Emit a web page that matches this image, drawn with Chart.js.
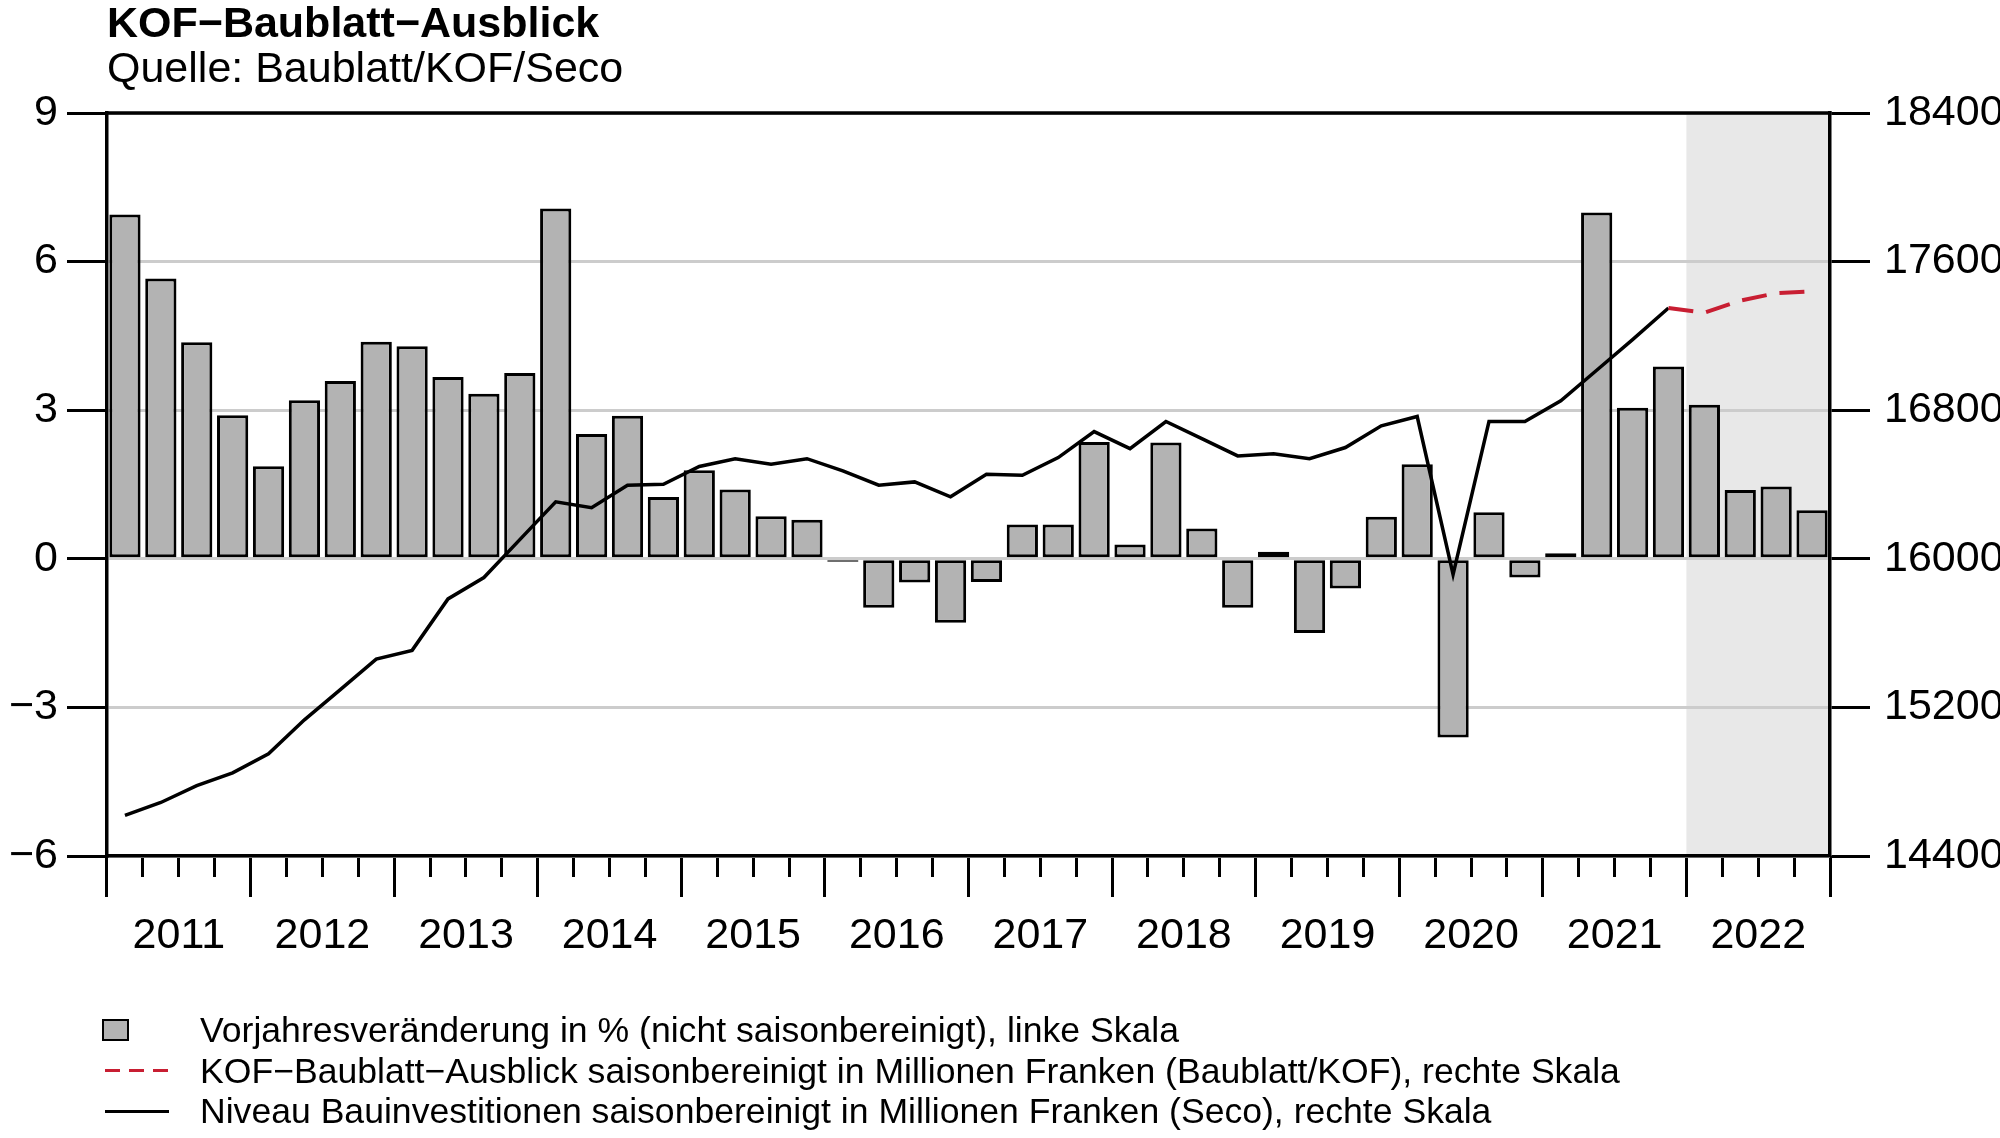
<!DOCTYPE html>
<html>
<head>
<meta charset="utf-8">
<title>KOF-Baublatt-Ausblick</title>
<script src="https://cdn.jsdelivr.net/npm/chart.js@4.4.1/dist/chart.umd.min.js"></script>
<style>
  html, body { margin: 0; padding: 0; background: #fff; }
  #wrap { position: relative; width: 2000px; height: 1138px; font-family: "Liberation Sans", Arial, sans-serif; color: #000; }
  #box { position: absolute; left: 0; top: 0; width: 2000px; height: 1138px; }
  .title { position: absolute; left: 107px; top: 1px; font-size: 43px; line-height: 43px; font-weight: bold; white-space: nowrap; }
  .subtitle { position: absolute; left: 107px; top: 46px; font-size: 43px; line-height: 43px; white-space: nowrap; }
  .leg { position: absolute; left: 200px; font-size: 35.6px; line-height: 36px; white-space: nowrap; }
  .sym { position: absolute; box-sizing: border-box; }
</style>
</head>
<body>
<div id="wrap">
  <div id="box"><canvas id="baublattChart"></canvas></div>
  <div class="title">KOF−Baublatt−Ausblick</div>
  <div class="subtitle">Quelle: Baublatt/KOF/Seco</div>

  <div class="sym" style="left:102px; top:1019px; width:27px; height:22px; background:#b3b3b3; border:2.5px solid #000;"></div>
  <div class="leg" style="top:1012px;">Vorjahresveränderung in % (nicht saisonbereinigt), linke Skala</div>
  <div class="sym" style="left:105px; top:1069px; width:64px; height:3px; background:repeating-linear-gradient(to right, #c81e32 0 15px, transparent 15px 24px);"></div>
  <div class="leg" style="top:1053px;">KOF−Baublatt−Ausblick saisonbereinigt in Millionen Franken (Baublatt/KOF), rechte Skala</div>
  <div class="sym" style="left:105px; top:1110px; width:64px; height:3px; background:#000;"></div>
  <div class="leg" style="top:1093px;">Niveau Bauinvestitionen saisonbereinigt in Millionen Franken (Seco), rechte Skala</div>
</div>

<script>
// Quartale 2011 bis 2022
const years = [2011, 2012, 2013, 2014, 2015, 2016, 2017, 2018, 2019, 2020, 2021, 2022];
const quarters = ["Q1", "Q2", "Q3", "Q4"];
const categories = years.flatMap(y => quarters.map(q => y + " " + q));
const forecastStart = "2022 Q1";

// Vorjahresveränderung in % (linke Skala)
const changePct = [
  6.95, 5.66, 4.37, 2.90, 1.87, 3.20, 3.59, 4.38, 4.29, 3.67, 3.33, 3.75,
  7.07, 2.52, 2.89, 1.25, 1.79, 1.40, 0.86, 0.79, -0.06, -0.99, -0.48, -1.29,
  -0.47, 0.69, 0.69, 2.36, 0.29, 2.35, 0.61, -0.99, 0.14, -1.50, -0.60, 0.85,
  1.91, -3.61, 0.94, -0.38, 0.11, 6.99, 3.05, 3.88, 3.11, 1.39, 1.46, 0.98
];

// Niveau Bauinvestitionen (Seco), Mio. CHF, bis 2021 Q4
const secoLevel = [
  14619, 14688, 14779, 14848, 14950, 15133, 15296, 15460, 15507, 15784, 15899, 16103,
  16307, 16275, 16396, 16401, 16497, 16539, 16509, 16539, 16473, 16396, 16414, 16334,
  16455, 16450, 16545, 16685, 16593, 16739, 16647, 16554, 16566, 16539, 16599, 16716,
  16766, 15916, 16739, 16739, 16851, 17015, 17180, 17350,
  null, null, null, null
];

// KOF-Baublatt-Ausblick, Mio. CHF, ab 2021 Q4
const kofForecast = [
  null, null, null, null, null, null, null, null, null, null, null, null,
  null, null, null, null, null, null, null, null, null, null, null, null,
  null, null, null, null, null, null, null, null, null, null, null, null,
  null, null, null, null, null, null, null, 17350,
  17325, 17390, 17430, 17440
];

// Achsen
const leftTicks = { min: -6, max: 9, step: 3 };
const rightTicks = { min: 14400, max: 18400, step: 800 };

Chart.defaults.font.family = '"Liberation Sans", Arial, sans-serif';
Chart.defaults.font.size = 43;
Chart.defaults.color = "#000";

// grauer Prognosebereich
const shadePlugin = {
  id: "forecastShade",
  beforeDraw(chart) {
    const { ctx, chartArea } = chart;
    const x = chart.scales.x;
    const i = categories.indexOf(forecastStart);
    const left = (x.getPixelForValue(i - 1) + x.getPixelForValue(i)) / 2;
    ctx.save();
    ctx.fillStyle = "#e8e8e8";
    ctx.fillRect(left, chartArea.top, chartArea.right - left, chartArea.bottom - chartArea.top);
    ctx.restore();
  }
};

// obere Rahmenlinie
const frameTop = {
  id: "frameTop",
  afterDraw(chart) {
    const { ctx, chartArea } = chart;
    ctx.save();
    ctx.strokeStyle = "#000";
    ctx.lineWidth = 3.5;
    ctx.beginPath();
    ctx.moveTo(chartArea.left - 1.5, chartArea.top);
    ctx.lineTo(chartArea.right + 1.5, chartArea.top);
    ctx.stroke();
    ctx.restore();
  }
};

const ctx = document.getElementById("baublattChart").getContext("2d");
new Chart(ctx, {
  type: "bar",
  data: {
    labels: categories,
    datasets: [
      {
        type: "line",
        label: "KOF-Baublatt-Ausblick",
        data: kofForecast,
        yAxisID: "y2",
        borderColor: "#c81e32",
        borderWidth: 4,
        borderDash: [25, 13],
        pointRadius: 0,
        tension: 0,
        order: 0
      },
      {
        type: "line",
        label: "Niveau Bauinvestitionen",
        data: secoLevel,
        yAxisID: "y2",
        borderColor: "#000",
        borderWidth: 3.5,
        pointRadius: 0,
        tension: 0,
        order: 1
      },
      {
        label: "Vorjahresveränderung",
        data: changePct,
        yAxisID: "y",
        backgroundColor: "#b3b3b3",
        borderColor: "#000",
        borderWidth: 3,
        borderSkipped: false,
        categoryPercentage: 1,
        barPercentage: 0.87,
        order: 2
      }
    ]
  },
  options: {
    responsive: true,
    maintainAspectRatio: false,
    animation: false,
    layout: { padding: { top: 113, left: 0, right: 0, bottom: 0 } },
    plugins: { legend: { display: false }, tooltip: { enabled: false } },
    scales: {
      // kurze Striche je Quartal
      x: {
        type: "category",
        position: "bottom",
        weight: 0,
        offset: true,
        grid: { offset: true, drawOnChartArea: false, tickLength: 21, tickWidth: 3, tickColor: "#000" },
        border: { display: true, color: "#000", width: 3.5 },
        ticks: { display: false },
        afterFit: s => { s.height = 0; }
      },
      // lange Striche je Jahr und Jahreszahlen
      xYear: {
        type: "category",
        position: "bottom",
        weight: 1,
        offset: true,
        grid: {
          offset: true,
          drawOnChartArea: false,
          tickLength: 41,
          tickWidth: 3,
          tickColor: c => (c.index === undefined || c.index % 4 === 0) ? "#000" : "rgba(0,0,0,0)"
        },
        border: { display: false },
        ticks: {
          autoSkip: false,
          maxRotation: 0,
          padding: 13,
          labelOffset: 18,
          callback: (v, i) => (i % 4 === 1) ? String(years[(i - 1) / 4]) : ""
        },
        afterFit: s => { s.height = 282; }
      },
      y: {
        position: "left",
        min: leftTicks.min,
        max: leftTicks.max,
        grid: { color: "#cccccc", lineWidth: 3, tickLength: 40, tickWidth: 3, tickColor: "#000" },
        border: { display: true, color: "#000", width: 3.5 },
        ticks: {
          stepSize: leftTicks.step,
          padding: 9,
          callback: v => String(v).replace("-", "\u2212")
        },
        afterFit: s => { s.width = 107; }
      },
      y2: {
        position: "right",
        min: rightTicks.min,
        max: rightTicks.max,
        grid: { drawOnChartArea: false, tickLength: 40, tickWidth: 3, tickColor: "#000" },
        border: { display: true, color: "#000", width: 3.5 },
        ticks: { stepSize: rightTicks.step, padding: 14, callback: v => String(v) },
        afterFit: s => { s.width = 170; }
      }
    }
  },
  plugins: [shadePlugin, frameTop]
});
</script>
</body>
</html>
